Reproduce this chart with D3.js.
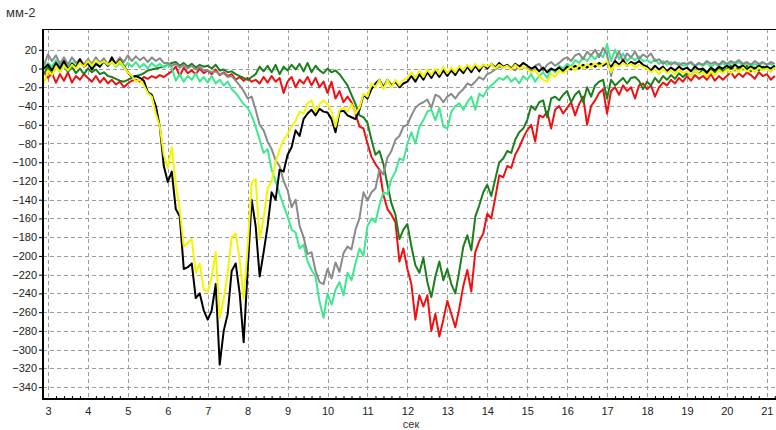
<!DOCTYPE html>
<html>
<head>
<meta charset="utf-8">
<script src="https://cdn.jsdelivr.net/npm/d3@7"></script>
<style>
body { margin: 0; background: #fff; }
text { font-family: "Liberation Sans", Arial, sans-serif; }
</style>
</head>
<body>
<div id="chart"></div>
<script>
// Sampling: first sample at 2.9 s, then every 0.1 s (184 samples)
const tStart = 2.9;
const tStep = 0.1;

const xTicks = d3.range(3, 22);            // 3 .. 21 sec
const yTicks = d3.range(-340, 21, 20);     // -340 .. 20

const blackVals = [
  0,
  4, -2, 6, 0, 8, -1, 5, 1, 10, 2,                              // 3
  6, -1, 5, 2, 8, 3, 12, 4, 9, 3,                               // 4
  -4, -9, -8, -10, -13, -25, -28, -40, -62, -104,               // 5
  -121, -110, -150, -158, -214, -212, -208, -245, -240, -258,   // 6
  -268, -258, -230, -316, -280, -262, -216, -208, -240, -292,   // 7
  -215, -140, -168, -222, -196, -168, -132, -140, -108, -110,   // 8
  -92, -84, -66, -72, -54, -48, -44, -50, -43, -46,             // 9
  -47, -54, -68, -46, -45, -50, -52, -54, -44, -28,             // 10
  -32, -22, -16, -12, -20, -12, -18, -14, -20, -16,             // 11
  -14, -8, -14, -6, -12, -4, -10, -3, -9, -2,                   // 12
  -8, -2, -7, 0, -5, 2, -4, 3, -3, 4,                           // 13
  0, 5, 1, 6, 2, 4, 0, 5, 2, 6,                                 // 14
  3, 0, 2, -3, 1, -4, 0, -2, 1, -3,                             // 15
  2, -1, 3, 0, 4, 1, 5, 2, 6, 3,                                // 16
  6, 2, 8, 4, 9, 3, 7, 5, 8, 4,                                 // 17
  2, -2, 3, -1, 2, -3, 1, -2, 2, -1,                            // 18
  1, -3, 2, -1, 0, -4, 1, -2, 2, 0,                             // 19
  3, 0, 4, 1, 3, -1, 2, 0, 3, 1,                                // 20
  2, 0, 3                                                       // 21
];

const yellowVals = [
  -16,
  -2, -7, 2, -4, 3, -2, 4, 0, 6, 2,
  8, 3, 9, 5, 8, 4, 7, 3, 8, 2,
  -4, -8, -14, -12, -18, -26, -30, -48, -62, -92,
  -106, -84, -124, -150, -190, -186, -182, -218, -208, -236,
  -238, -222, -196, -266, -246, -218, -180, -176, -204, -246,
  -190, -122, -118, -182, -160, -128, -120, -100, -86, -76,
  -70, -62, -56, -46, -48, -37, -34, -46, -38, -34,
  -38, -46, -62, -44, -42, -46, -38, -48, -42, -27,
  -30, -16, -20, -12, -22, -12, -20, -12, -18, -12,
  -10, -4, -10, -2, -9, -1, -7, 0, -6, 2,
  -5, 1, -4, 3, -2, 4, -1, 5, 0, 4,
  2, 5, 0, 4, 1, 3, -1, 4, 0, 2,
  -1, -4, -2, -8, -12, -14, -6, -9, -2, -5,
  -1, 2, -2, 4, 0, 5, 1, 6, 2, 5,
  8, -4, 5, 2, 6, 3, 5, 1, 4, 2,
  0, -4, -1, -6, 0, -5, -2, -6, -1, -5,
  -3, -8, -2, -6, -4, -9, -3, -7, -2, -5,
  -1, -5, 0, -4, 1, -3, 0, -4, 1, -2,
  0, -3, 1
];

const grayVals = [
  4,
  15, 8, 14, 5, 12, 4, 12, 6, 10, 4,
  10, 5, 12, 6, 11, 4, 9, 6, 12, 7,
  14, 8, 13, 9, 12, 7, 12, 8, 11, 6,
  6, 3, 5, 1, 4, 0, 3, -1, 2, -2,
  -2, -4, -3, -6, -5, -9, -8, -13, -18, -24,
  -32, -30, -44, -60, -66, -78, -86, -98, -104, -120,
  -130, -148, -140, -168, -180, -198, -196, -216, -228, -230,
  -214, -224, -207, -217, -197, -190, -193, -172, -160, -132,
  -141, -132, -128, -108, -113, -95, -88, -76, -72, -62,
  -60, -50, -42, -38, -36, -33, -42, -28, -30, -36,
  -30, -27, -32, -26, -22, -16, -18, -14, -9, -12,
  -6, -4, -1, 2, 1, 3, 0, -2, 3, 1,
  0, -3, 3, 5, -2, 4, 7, 3, 6, 10,
  12, 8, 14, 16, 10, 18, 14, 20, 12, 22,
  15, -8, 10, 18, 8, 16, 12, 18, 10, 15,
  12, 16, 8, 10, 5, 8, 4, 7, 3, 6,
  5, 7, 3, 6, 4, 8, 5, 7, 4, 8,
  5, 8, 6, 9, 5, 7, 4, 8, 5, 7,
  4, 7, 5
];

const lightGreenVals = [
  2,
  6, 2, 9, 3, 8, 1, 7, 2, 8, 3,
  7, 1, 6, 2, 8, 3, 7, 2, 6, 1,
  6, 2, 7, 1, 5, 0, 6, 2, 5, 1,
  4, 1, -13, -6, -14, -8, -12, -5, -14, -9,
  -15, -8, -16, -12, -18, -14, -22, -26, -32, -38,
  -42, -50, -62, -76, -90, -86, -108, -120, -134, -146,
  -158, -172, -175, -192, -188, -206, -215, -222, -249, -266,
  -240, -252, -236, -228, -242, -218, -226, -208, -192, -200,
  -168, -160, -164, -146, -132, -134, -118, -110, -96, -98,
  -80, -68, -80, -62, -55, -46, -44, -55, -42, -62,
  -64, -46, -40, -37, -44, -36, -30, -44, -27, -30,
  -22, -18, -14, -10, -12, -8, -14, -10, -16, -8,
  -12, -6, -14, -8, -4, -10, 0, -4, 3, 0,
  5, 2, 9, 6, 12, 8, 14, 10, 16, 12,
  26, 8, 20, 10, 16, 8, 12, 9, 13, 8,
  9, 6, 10, 5, 8, 4, 7, 5, 6, 3,
  4, 6, 2, 5, 3, 6, 2, 5, 3, 6,
  2, 6, 4, 7, 3, 6, 2, 5, 3, 6,
  4, 5, 2
];

const redVals = [
  -4,
  -10, -5, -15, -6, -13, -4, -15, -8, -12, -6,
  -10, -14, -8, -15, -10, -16, -12, -17, -14, -20,
  -16, -13, -12, -14, -9, -11, -8, -10, -7, -9,
  -6, -3, 2, -8, 1, -5, -2, -6, 0, -5,
  -2, -6, -1, -7, -4, -8, -6, -12, -9, -13,
  -10, -14, -12, -16, -9, -15, -8, -14, -10, -26,
  -14, -9, -20, -12, -16, -9, -18, -10, -20, -14,
  -26, -14, -32, -24, -36, -30, -36, -48, -62, -64,
  -80, -94, -102, -108, -135, -150, -156, -164, -206, -192,
  -214, -230, -268, -242, -254, -242, -280, -262, -286, -268,
  -248, -262, -276, -256, -232, -215, -238, -196, -184, -176,
  -155, -160, -138, -114, -116, -104, -106, -92, -84, -74,
  -66, -60, -78, -50, -52, -46, -64, -44, -40, -48,
  -42, -36, -50, -38, -30, -60, -40, -34, -26, -22,
  -48, -24, -20, -28, -18, -24, -20, -32, -18, -16,
  -22, -18, -30, -20, -15, -18, -12, -16, -10, -14,
  -8, -13, -7, -11, -8, -12, -6, -13, -8, -12,
  -8, -4, -10, -5, -9, -4, -7, -11, -4, -8,
  -6, -12, -8
];

const darkGreenVals = [
  -5,
  1, -6, 2, -3, 3, -4, 2, -5, 0, -6,
  0, -4, -1, -6, -4, -8, -9, -11, -13, -14,
  -12, -10, -8, -7, -5, -2, -1, 0, 1, 2,
  4, 6, 7, 3, 6, 2, 5, 1, 4, 2,
  3, 0, 4, -2, -1, -4, -3, -6, -8, -10,
  -12, -9, -6, 2, -3, 3, -4, 4, -6, 2,
  -2, 4, -1, 5, -3, 6, -4, 3, -2, -5,
  0, -4, -2, -6, -12, -18, -28, -38, -50, -52,
  -58, -76, -92, -88, -102, -124, -144, -156, -182, -172,
  -166, -190, -210, -218, -202, -228, -244, -222, -206, -226,
  -214, -230, -240, -216, -190, -178, -194, -158, -146, -132,
  -124, -136, -118, -100, -96, -88, -90, -76, -68, -64,
  -55, -40, -44, -36, -34, -52, -32, -30, -34, -28,
  -24, -36, -28, -24, -36, -20, -30, -18, -14, -12,
  -32, -12, -18, -14, -10, -16, -10, -9, -13, -22,
  -14, -18, -10, -15, -8, -12, -7, -11, -5, -9,
  -5, -8, -2, -6, -1, -5, 0, -4, 1, -3,
  0, 3, -2, 2, -1, 3, -3, 1, -2, 2,
  0, -3, 2
];

// drawing order: first is at the bottom
const series = [
  {name: "red", color: "#ee1111", values: redVals},
  {name: "darkgreen", color: "#1c7f1c", values: darkGreenVals},
  {name: "lightgreen", color: "#3de88e", values: lightGreenVals},
  {name: "gray", color: "#8a8a8a", values: grayVals},
  {name: "black", color: "#000000", values: blackVals},
  {name: "yellow", color: "#f5f500", values: yellowVals}
];

const W = 776, H = 430;
const plot = {left: 43, right: 776, top: 29, bottom: 399};

const svg = d3.select("#chart")
    .append("svg")
    .attr("width", W)
    .attr("height", H);

const x = d3.scaleLinear().domain([2.875, 21.23]).range([plot.left, plot.right]);
const y = d3.scaleLinear().domain([42.2, -352.7]).range([plot.top, plot.bottom]);

// Clip area for the curves
svg.append("clipPath").attr("id", "plotClip")
    .append("rect")
    .attr("x", plot.left)
    .attr("y", plot.top)
    .attr("width", plot.right - plot.left)
    .attr("height", plot.bottom - plot.top);

// Grid
const grid = svg.append("g").attr("stroke", "#9c9c9c").attr("stroke-dasharray", "4,3");
grid.selectAll(".vgrid")
    .data(xTicks)
    .enter().append("line")
    .attr("x1", d => Math.round(x(d)) + 0.5)
    .attr("x2", d => Math.round(x(d)) + 0.5)
    .attr("y1", plot.top)
    .attr("y2", plot.bottom);
grid.selectAll(".hgrid")
    .data(yTicks)
    .enter().append("line")
    .attr("x1", plot.left)
    .attr("x2", plot.right)
    .attr("y1", d => Math.round(y(d)) + 0.5)
    .attr("y2", d => Math.round(y(d)) + 0.5);

// Curves
const line = d3.line()
    .x((d, i) => x(tStart + i * tStep))
    .y(d => y(d));

svg.append("g")
    .attr("clip-path", "url(#plotClip)")
    .selectAll("path")
    .data(series)
    .enter().append("path")
    .attr("d", d => line(d.values))
    .attr("fill", "none")
    .attr("stroke", d => d.color)
    .attr("stroke-width", 2)
    .attr("stroke-linejoin", "round");

// Frame
svg.append("line")
    .attr("x1", plot.left).attr("x2", plot.right)
    .attr("y1", plot.top + 0.5).attr("y2", plot.top + 0.5)
    .attr("stroke", "#000");

// Y axis
const yAxis = svg.append("g")
    .attr("transform", `translate(${plot.left},0)`)
    .call(d3.axisLeft(y).tickValues(yTicks).tickSize(4).tickPadding(2));
yAxis.select(".domain").remove();
yAxis.selectAll("text").attr("font-size", 11).attr("fill", "#222")
    .style("font-family", "'Liberation Sans', Arial, sans-serif");

// X axis labels
const xAxis = svg.append("g")
    .attr("transform", `translate(0,${plot.bottom})`)
    .call(d3.axisBottom(x).tickValues(xTicks).tickSize(0).tickPadding(8));
xAxis.select(".domain").remove();
xAxis.selectAll("text").attr("font-size", 11).attr("fill", "#222")
    .style("font-family", "'Liberation Sans', Arial, sans-serif");

// Minor ticks on the x axis
const minor = d3.range(3, 21.3, 0.2).filter(d => Math.abs(d - Math.round(d)) > 0.01);
svg.append("g")
    .attr("transform", `translate(0,${plot.bottom})`)
    .call(d3.axisBottom(x).tickValues(minor).tickSize(-3).tickFormat(""))
    .select(".domain").remove();

// Axis lines (thick)
svg.append("line")
    .attr("x1", plot.left).attr("x2", plot.left)
    .attr("y1", plot.top).attr("y2", plot.bottom + 1)
    .attr("stroke", "#000").attr("stroke-width", 2);
svg.append("line")
    .attr("x1", plot.left - 1).attr("x2", plot.right)
    .attr("y1", plot.bottom).attr("y2", plot.bottom)
    .attr("stroke", "#000").attr("stroke-width", 2);

// Titles
svg.append("text")
    .attr("x", 6)
    .attr("y", 17)
    .attr("font-size", 13)
    .attr("fill", "#333")
    .text("мм-2");

svg.append("text")
    .attr("x", 411)
    .attr("y", 428)
    .attr("text-anchor", "middle")
    .attr("font-size", 11)
    .attr("fill", "#333")
    .text("сек");
</script>
</body>
</html>
